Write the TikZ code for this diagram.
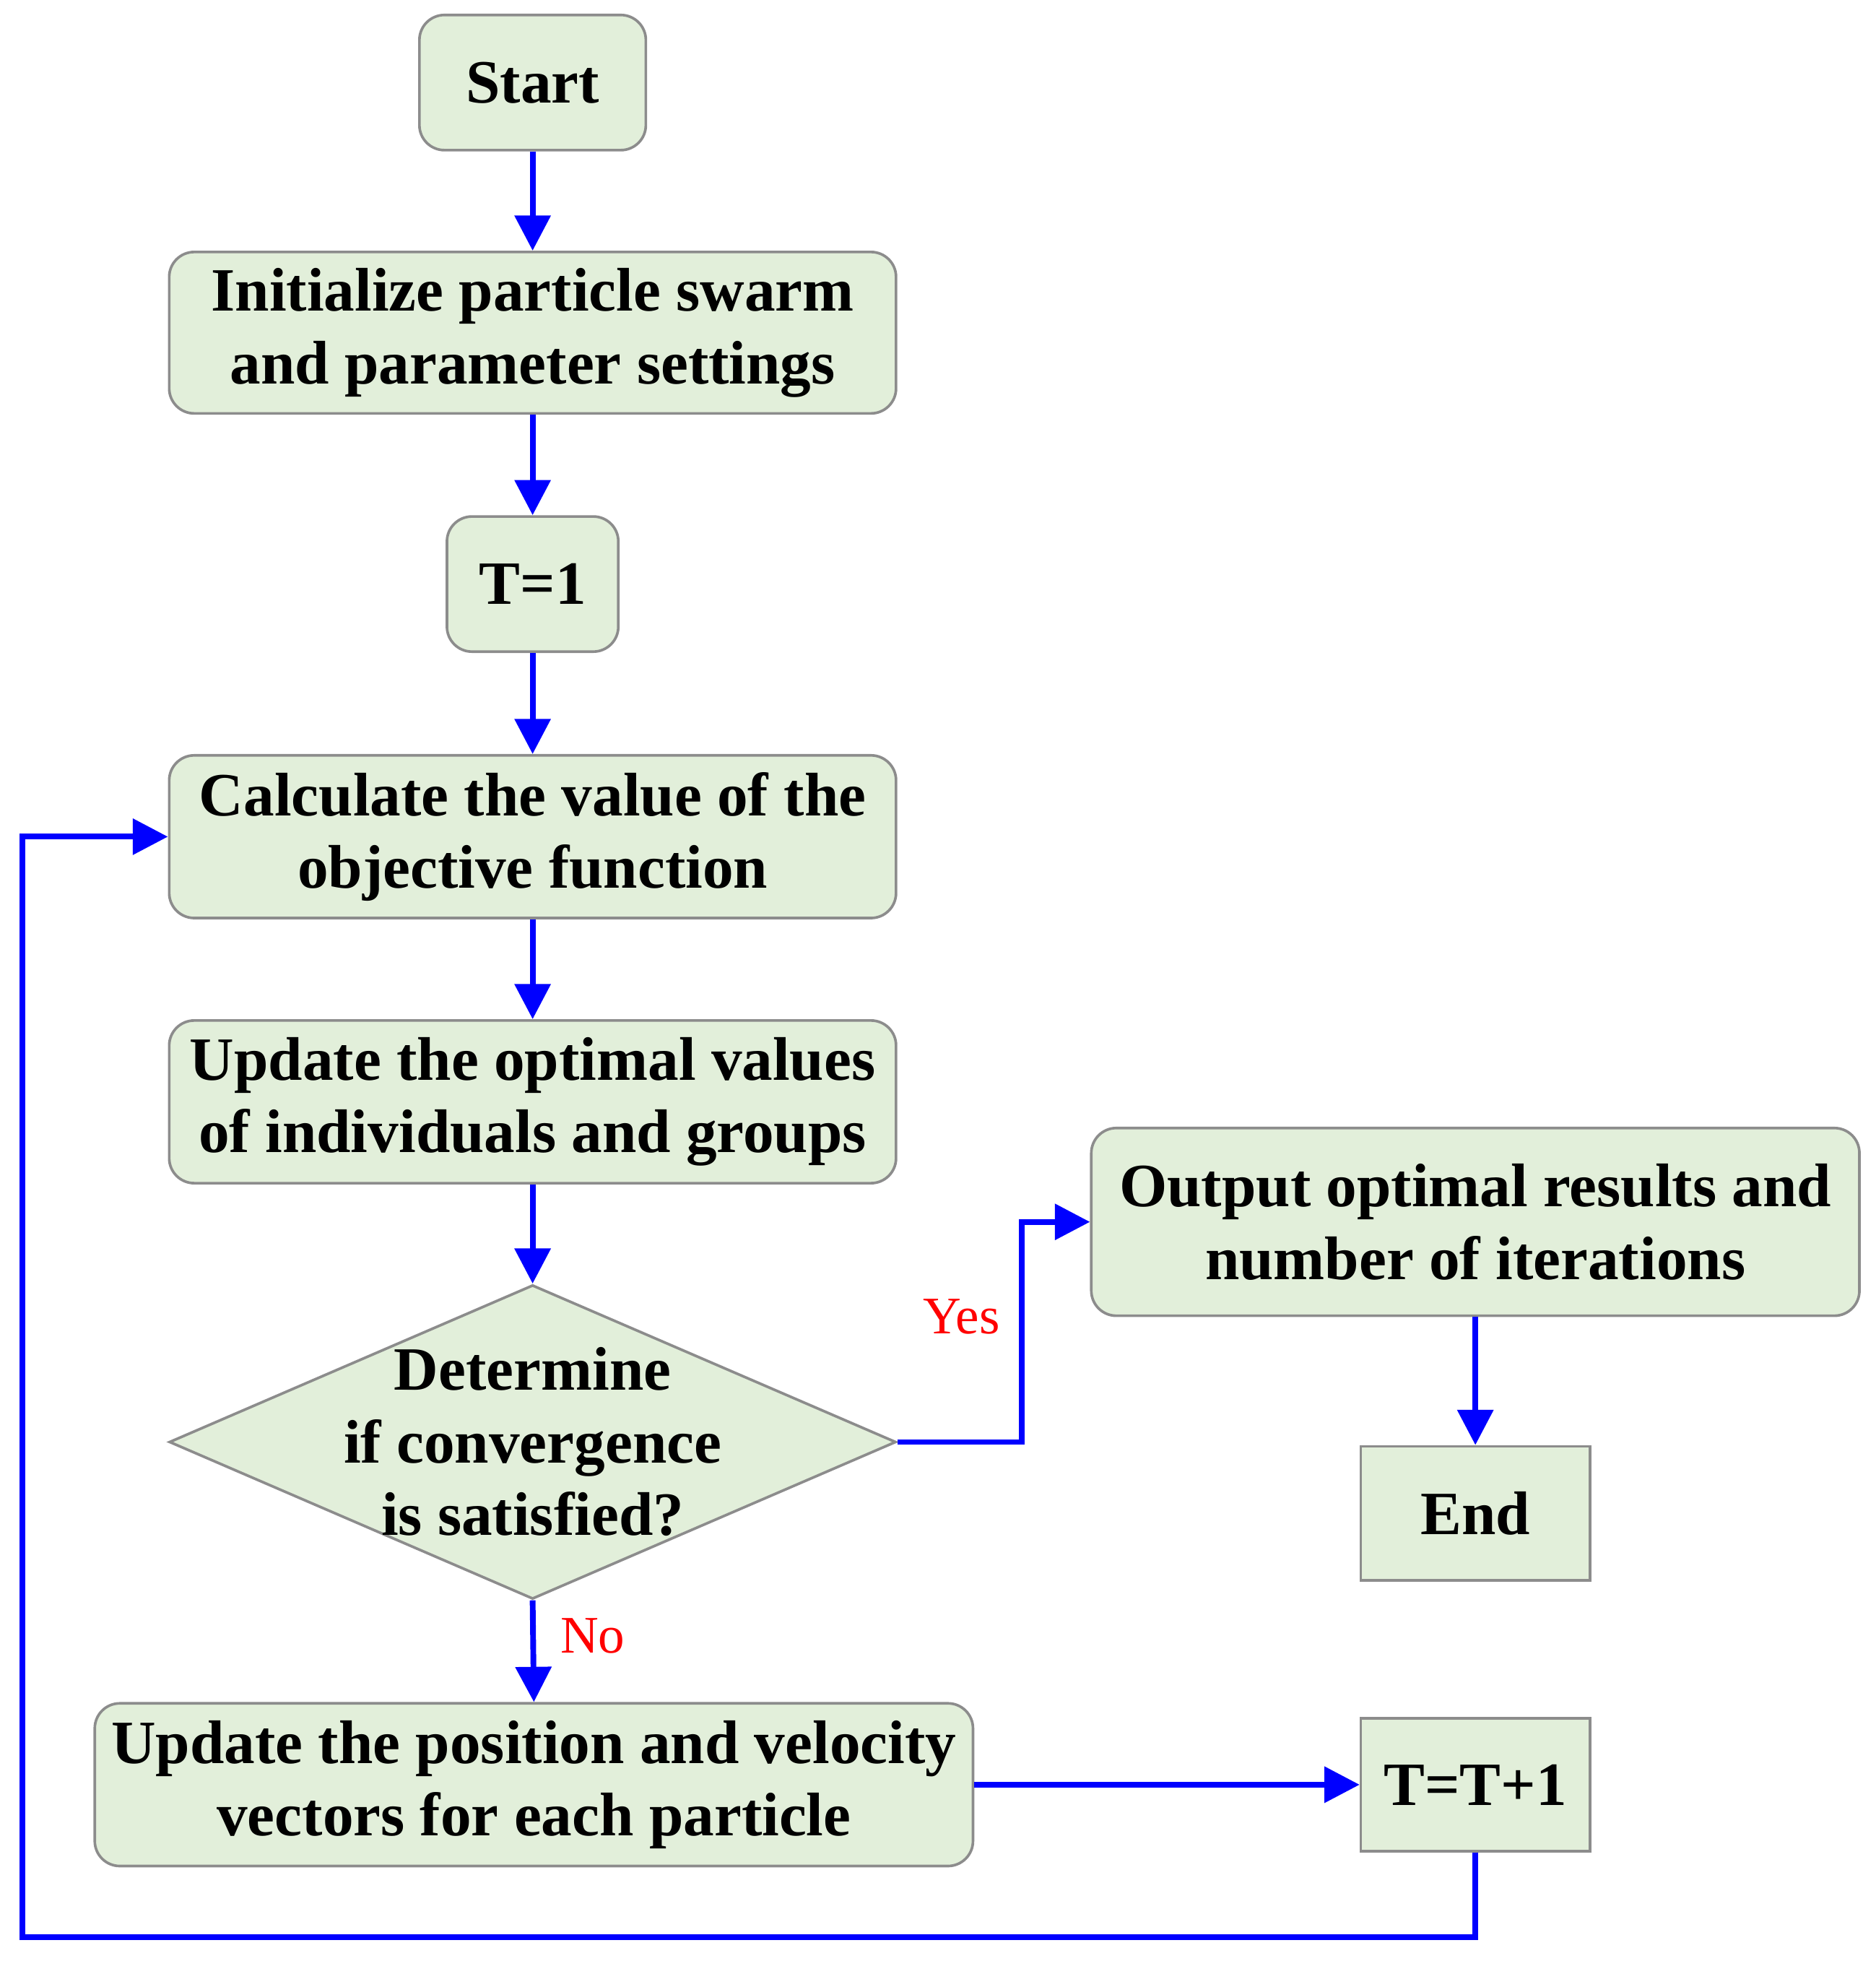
\documentclass[tikz,border=0pt]{standalone}
\usepackage{fontspec}
\setmainfont{Liberation Serif}
\usetikzlibrary{shapes.geometric,arrows.meta}
\definecolor{boxfill}{HTML}{E2EFDA}
\definecolor{boxline}{HTML}{8C8C8C}
\begin{document}
\begin{tikzpicture}[x=0.01cm,y=-0.01cm,
  box/.style={draw=boxline,fill=boxfill,rounded corners=0.2cm,line width=0.6pt,align=center,inner sep=0pt,font=\fontsize{14}{16.5}\selectfont\bfseries},
  sq/.style={draw=boxline,fill=boxfill,line width=0.6pt,align=center,inner sep=0pt,font=\fontsize{14}{16.5}\selectfont\bfseries},
  arr/.style={draw=blue,line width=1.3pt,-{Triangle[length=8pt,width=8pt]}},
  lab/.style={text=red,font=\fontsize{12}{14}\selectfont}]
\useasboundingbox (0,0) rectangle (1500,1568);
\node[box,minimum width=1.81cm,minimum height=1.08cm] (start) at (426,66) {Start};
\node[box,minimum width=5.81cm,minimum height=1.29cm] (init) at (426,266) {Initialize particle swarm\\and parameter settings};
\node[box,minimum width=1.37cm,minimum height=1.08cm] (t1) at (426,467) {T=1};
\node[box,minimum width=5.81cm,minimum height=1.30cm] (calc) at (426,669) {Calculate the value of the\\objective function};
\node[box,minimum width=5.81cm,minimum height=1.30cm] (upd) at (426,881) {Update the optimal values\\of individuals and groups};
\node[sq,diamond,aspect=2.32,minimum width=5.81cm,minimum height=2.51cm] (dec) at (426,1153) {};
\node[font=\fontsize{14}{16.5}\selectfont\bfseries,align=center] at (426,1153) {Determine\\if convergence\\is satisfied?};
\node[box,minimum width=6.14cm,minimum height=1.50cm] (out) at (1180,977) {Output optimal results and\\number of iterations};
\node[sq,minimum width=1.83cm,minimum height=1.07cm] (end) at (1180,1210) {End};
\node[box,minimum width=7.02cm,minimum height=1.30cm] (pos) at (427,1427) {Update the position and velocity\\vectors for each particle};
\node[sq,minimum width=1.83cm,minimum height=1.06cm] (tt) at (1180,1427) {T=T+1};
\coordinate (c1) at (1180,1549);
\coordinate (c2) at (18,1549);
\coordinate (c3) at (18,669);
\coordinate (y1) at (817,1153);
\coordinate (y2) at (817,977);
\draw[arr] (start) -- (init);
\draw[arr] (init) -- (t1);
\draw[arr] (t1) -- (calc);
\draw[arr] (calc) -- (upd);
\draw[arr] (upd) -- (dec);
\draw[arr] (dec.south) -- (pos.north);
\draw[arr] (dec.east) -- (y1) -- (y2) -- (out.west);
\draw[arr] (out) -- (end);
\draw[arr] (pos) -- (tt);
\draw[arr] (tt.south) -- (c1) -- (c2) -- (c3) -- (calc.west);
\node[lab] at (769,1053) {Yes};
\node[lab] at (474,1308) {No};
\end{tikzpicture}
\end{document}
